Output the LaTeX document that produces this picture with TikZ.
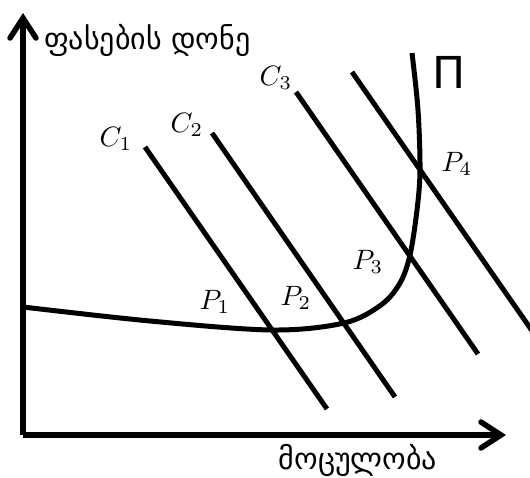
\documentclass[tikz,border=0pt]{standalone}
\usepackage{amsmath}
\usepackage{fontspec}
\newfontfamily\geofont[Script=Georgian]{DejaVu Sans}
\newfontfamily\pifont{DejaVu Sans}
\usetikzlibrary{arrows.meta, calc}

\begin{document}
\begin{tikzpicture}[
    x=1pt, y=-1pt,
    axis/.style={line width=5.5pt, -{Straight Barb[length=20pt, width=26pt, line cap=round]}},
    budget/.style={line width=5pt},
    curvestyle/.style={line width=5pt},
    mathlabel/.style={scale=2.8, inner sep=0pt},
    geolabel/.style={font=\geofont\fontsize{30}{34}\selectfont, inner sep=0pt}
]
\useasboundingbox (0,0) rectangle (530,477);
% axes
\coordinate (origin) at (23,435);
\coordinate (ytip) at (23,13);
\coordinate (xtip) at (506,435);
\draw[axis] (origin) -- (ytip);
\draw[axis] (origin) -- (xtip);
\node (ylab) [geolabel, anchor=west] at (44,40) {ფასების დონე};
\node (xlab) [geolabel] at (358,460) {მოცულობა};
% curve
\draw[curvestyle] plot[smooth, tension=0.55] coordinates {(23,307) (150,321) (272,330) (344,323) (381,305) (400,283) (410,255) (417,210) (420,170) (418,110) (412,53)};
\node (pi) [font=\pifont\fontsize{44}{48}\selectfont, inner sep=0pt] at (449,72) {П};
% lines
\foreach \n/\sx/\sy/\ex/\ey in {1/145/147/327/409, 2/212/133/395/397, 3/296/92/478/354, 4/352/72/535/335}
  \draw[budget] (\sx,\sy) coordinate (c\n s) -- (\ex,\ey) coordinate (c\n e);
\node (lc1) [mathlabel] at (116,139) {$C_1$};
\node (lc2) [mathlabel] at (187,125) {$C_2$};
\node (lc3) [mathlabel] at (276,78) {$C_3$};
\node (lp1) [mathlabel] at (215,302) {$P_1$};
\node (lp2) [mathlabel] at (296,298) {$P_2$};
\node (lp3) [mathlabel] at (368,262) {$P_3$};
\node (lp4) [mathlabel] at (457,164) {$P_4$};
\end{tikzpicture}
\end{document}
